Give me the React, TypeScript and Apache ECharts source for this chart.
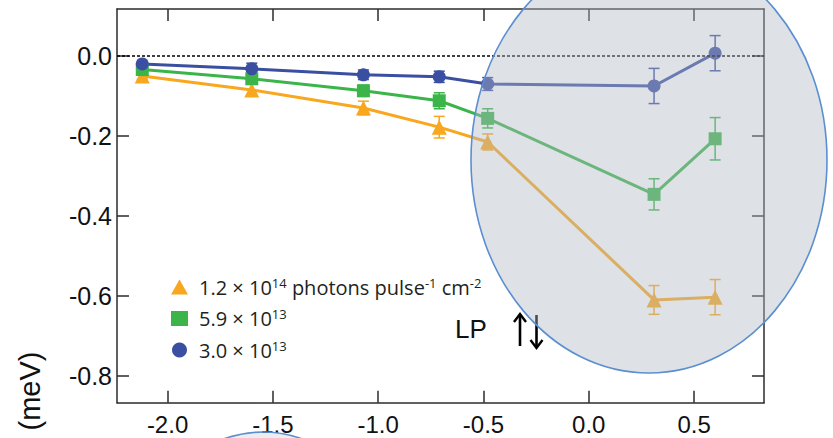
import { useEffect, useRef } from 'react';
import * as echarts from 'echarts';

// Bias positions (x) shared by all three fluence series
const xValues = [-2.12, -1.6, -1.07, -0.71, -0.48, 0.31, 0.6];

// Energy shift (meV) and its uncertainty for each fluence
const shiftHigh = [-0.05, -0.085, -0.13, -0.178, -0.215, -0.61, -0.603];
const errHigh = [0.008, 0.015, 0.017, 0.027, 0.02, 0.036, 0.044];
const shiftMid = [-0.034, -0.057, -0.087, -0.112, -0.156, -0.346, -0.207];
const errMid = [0.006, 0.012, 0.014, 0.02, 0.024, 0.039, 0.053];
const shiftLow = [-0.02, -0.032, -0.047, -0.052, -0.07, -0.075, 0.007];
const errLow = [0.006, 0.014, 0.012, 0.014, 0.016, 0.044, 0.044];

const xTicks = [-2.0, -1.5, -1.0, -0.5, 0.0, 0.5];
const yTicks = [0.0, -0.2, -0.4, -0.6, -0.8];

const seriesNames = ['1.2e14', '5.9e13', '3.0e13'];
const legendLabels: Record<string, string> = {
  '1.2e14': '{gap| }1.2 × 10{sup|14} photons pulse{sup|-1} cm{sup|-2}',
  '5.9e13': '{gap| }5.9 × 10{sup|13}',
  '3.0e13': '{gap| }3.0 × 10{sup|13}',
};

const ORANGE = '#f8a71e';
const GREEN = '#3bb54a';
const BLUE = '#3a4fa2';
const AXIS = '#2b2b2b';
const TICK_FONT = 'Liberation Sans, Arial, sans-serif';

const X_MIN = -2.24;
const X_MAX = 0.832;
const Y_MIN = -0.867;
const Y_MAX = 0.1175;

function errorBars(color: string) {
  return (_params: any, api: any) => {
    const x = api.value(0);
    const y = api.value(1);
    const e = api.value(2);
    const top = api.coord([x, y + e]);
    const bot = api.coord([x, y - e]);
    const h = 5.5;
    const style = { stroke: color, lineWidth: 1.5 };
    return {
      type: 'group',
      children: [
        { type: 'line', shape: { x1: top[0], y1: top[1], x2: bot[0], y2: bot[1] }, style },
        { type: 'line', shape: { x1: top[0] - h, y1: top[1], x2: top[0] + h, y2: top[1] }, style },
        { type: 'line', shape: { x1: bot[0] - h, y1: bot[1], x2: bot[0] + h, y2: bot[1] }, style },
      ],
    };
  };
}

function lineSeries(name: string, ys: number[], color: string, symbol: string, size: number, extra: any = {}) {
  return {
    name,
    type: 'line',
    data: xValues.map((x, i) => [x, ys[i]]),
    symbol,
    symbolSize: size,
    showAllSymbol: true,
    lineStyle: { color, width: 3 },
    itemStyle: { color },
    z: 4,
    silent: true,
    ...extra,
  };
}

function barSeries(ys: number[], errs: number[], color: string) {
  return {
    type: 'custom',
    renderItem: errorBars(color),
    data: xValues.map((x, i) => [x, ys[i], errs[i]]),
    encode: { x: 0, y: 1 },
    z: 3,
    silent: true,
  };
}

const axisTickStyle = { inside: true, length: 12, lineStyle: { color: AXIS, width: 1.5 } };
const axisLineStyle = { show: true, onZero: false, lineStyle: { color: AXIS, width: 1.5 } };

export default function App() {
  const ref = useRef<HTMLDivElement>(null);

  useEffect(() => {
    if (!ref.current) return;
    const chart = echarts.init(ref.current, null, { renderer: 'svg' });

    const option: any = {
      animation: false,
      backgroundColor: '#ffffff',
      grid: { left: 117, top: 9, right: 69, bottom: 35.3, outerBoundsMode: 'none' },
      xAxis: [
        {
          type: 'value',
          min: X_MIN,
          max: X_MAX,
          axisLine: axisLineStyle,
          axisTick: { ...axisTickStyle, customValues: xTicks },
          axisLabel: {
            customValues: xTicks,
            formatter: (v: number) => v.toFixed(1),
            fontSize: 24,
            lineHeight: 20,
            fontFamily: TICK_FONT,
            color: '#111',
            margin: 12,
          },
          splitLine: { show: false },
        },
        {
          type: 'value',
          position: 'top',
          min: X_MIN,
          max: X_MAX,
          axisLine: axisLineStyle,
          axisTick: { ...axisTickStyle, customValues: xTicks },
          axisLabel: { show: false },
          splitLine: { show: false },
        },
      ],
      yAxis: [
        {
          type: 'value',
          min: Y_MIN,
          max: Y_MAX,
          axisLine: axisLineStyle,
          axisTick: { ...axisTickStyle, customValues: yTicks },
          axisLabel: {
            customValues: yTicks,
            formatter: (v: number) => v.toFixed(1),
            fontSize: 25,
            fontFamily: TICK_FONT,
            color: '#111',
            margin: 5,
          },
          splitLine: { show: false },
        },
        {
          type: 'value',
          position: 'right',
          min: Y_MIN,
          max: Y_MAX,
          axisLine: axisLineStyle,
          axisTick: { ...axisTickStyle, customValues: yTicks },
          axisLabel: { show: false },
          splitLine: { show: false },
        },
      ],
      legend: {
        orient: 'vertical',
        left: 166,
        top: 271,
        itemWidth: 17,
        itemHeight: 15,
        itemGap: 9.5,
        selectedMode: false,
        data: [
          { name: seriesNames[0], icon: 'triangle' },
          { name: seriesNames[1], icon: 'rect' },
          { name: seriesNames[2], icon: 'circle' },
        ],
        formatter: (name: string) => legendLabels[name],
        textStyle: {
          fontFamily: 'Open Sans, sans-serif',
          fontSize: 20,
          lineHeight: 22,
          color: '#231f20',
          rich: {
            gap: { width: 6 },
            sup: { fontSize: 13, lineHeight: 13, padding: [0, 0, 9, 0], fontFamily: 'Open Sans, sans-serif', color: '#231f20' },
          },
        },
      },
      series: [
        barSeries(shiftHigh, errHigh, ORANGE),
        barSeries(shiftMid, errMid, GREEN),
        barSeries(shiftLow, errLow, BLUE),
        lineSeries(seriesNames[0], shiftHigh, ORANGE, 'triangle', 15),
        lineSeries(seriesNames[1], shiftMid, GREEN, 'rect', 13),
        lineSeries(seriesNames[2], shiftLow, BLUE, 'circle', 13, {
          markLine: {
            silent: true,
            symbol: ['none', 'none'],
            label: { show: false },
            lineStyle: { color: '#000', width: 1.6, type: [3, 2] },
            data: [{ yAxis: 0 }],
          },
        }),
      ],
      graphic: [
        {
          type: 'text',
          x: 30,
          y: 391,
          rotation: Math.PI / 2,
          style: {
            text: '(meV)',
            font: '29px Liberation Sans, Arial, sans-serif',
            fill: '#111',
            align: 'center',
            verticalAlign: 'middle',
          },
        },
        {
          type: 'text',
          x: 455,
          y: 329,
          style: {
            text: 'LP',
            font: '26px Liberation Sans, Arial, sans-serif',
            fill: '#111',
            align: 'left',
            verticalAlign: 'middle',
          },
        },
        // spin-up / spin-down arrows
        { type: 'line', shape: { x1: 520, y1: 346, x2: 520, y2: 315 }, style: { stroke: '#000', lineWidth: 2.6 } },
        { type: 'polyline', shape: { points: [[514, 322], [520, 314], [526, 322]] }, style: { stroke: '#000', lineWidth: 2.4, fill: 'none' } },
        { type: 'line', shape: { x1: 536.5, y1: 315, x2: 536.5, y2: 347 }, style: { stroke: '#000', lineWidth: 2.6 } },
        { type: 'polyline', shape: { points: [[530.5, 340], [536.5, 348], [542.5, 340]] }, style: { stroke: '#000', lineWidth: 2.4, fill: 'none' } },
        // highlighted regions
        {
          type: 'ellipse',
          z: 100,
          shape: { cx: 649, cy: 160, rx: 178, ry: 213 },
          style: { fill: 'rgba(176,183,196,0.42)', stroke: '#5b8fd1', lineWidth: 1.6 },
        },
        {
          type: 'ellipse',
          z: 100,
          shape: { cx: 263, cy: 632, rx: 150, ry: 200 },
          style: { fill: 'rgba(176,183,196,0.25)', stroke: '#5b8fd1', lineWidth: 1.6 },
        },
      ],
    };

    chart.setOption(option);
    return () => chart.dispose();
  }, []);

  return <div ref={ref} style={{ position: 'fixed', left: 0, top: 0, width: 833, height: 438 }} />;
}
